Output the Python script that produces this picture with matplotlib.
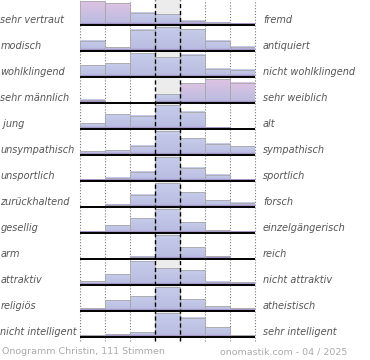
import numpy as np
import matplotlib
matplotlib.use('Agg')
import matplotlib.pyplot as plt
from matplotlib import colors as mcolors
from matplotlib.transforms import blended_transform_factory

# Onogramm: Verteilung der Stimmen auf 7 Stufen je Eigenschaftspaar
links = ["sehr vertraut", "modisch", "wohlklingend", "sehr männlich", " jung",
         "unsympathisch", "unsportlich", "zurückhaltend", "gesellig", "arm",
         "attraktiv", "religiös", "nicht intelligent"]
rechts = ["fremd", "antiquiert", "nicht wohlklingend", "sehr weiblich", "alt",
          "sympathisch", "sportlich", "forsch", "einzelgängerisch", "reich",
          "nicht attraktiv", "atheistisch", "sehr intelligent"]

vertraut = [24, 21.7, 12.3, 10.7, 4.3, 2.3, 1.3]
modisch = [10.3, 3.7, 21, 23.7, 21.7, 10.3, 4.3]
wohlklingend = [12, 14, 24.6, 20, 23, 8.6, 7.3]
maennlich = [3.3, 0, 0.3, 9, 20, 24.6, 20.6]
jung = [5.7, 14.7, 13.3, 24, 17.3, 1.3, 0]
unsympathisch = [4, 4.7, 9.3, 24, 16.7, 11.3, 8.7]
unsportlich = [1.5, 3.5, 9.3, 24, 13.5, 6.5, 1.3]
zurueckhaltend = [0.5, 2.4, 12.4, 24, 15, 6.7, 4.4]
gesellig = [1.3, 8, 14.6, 24, 10.6, 3, 1.3]
arm = [0, 0, 2.5, 24, 11.6, 2.6, 0]
attraktiv = [4, 10.7, 24, 16.7, 14.7, 3.3, 3]
religioes = [2.7, 11, 14.7, 24, 12, 5, 2.7]
intelligent = [1.7, 2.7, 4.7, 24, 19.3, 10, 1.7]

zeilen = [vertraut, modisch, wohlklingend, maennlich, jung, unsympathisch,
          unsportlich, zurueckhaltend, gesellig, arm, attraktiv, religioes,
          intelligent]

fuss_links = "Onogramm Christin, 111 Stimmen"
fuss_rechts = "onomastik.com - 04 / 2025"

W, H = 370, 360
ROW = 26.0
n = len(zeilen)

blau_oben = np.array(mcolors.to_rgb('#c6ccea'))
blau_unten = np.array(mcolors.to_rgb('#b8bbe0'))
rosa = np.array(mcolors.to_rgb('#ddc3e4'))
band = np.array(mcolors.to_rgb('#a493c6'))


def gradient(t, hoehe_px):
    m = 60
    top = blau_oben * (1 - t) + rosa * t
    f = np.linspace(0, 1, m)[:, None]
    img = top * (1 - f) + blau_unten * f
    k = int(round(min(1.0, 2.0 / max(hoehe_px, 0.01)) * m))
    if k > 0:
        img[m - k:] = band
    return img[:, None, :]


fig = plt.figure(figsize=(W / 100, H / 100), dpi=100)
ax = fig.add_axes([80 / W, (H - 338) / H, 175 / W, 338 / H])

x = np.arange(7) + 0.5
voll = 24 / ROW
basen = []
for i, werte in enumerate(zeilen):
    werte = np.array(werte, dtype=float)
    base = n - 1 - i + 1 / ROW
    basen.append(base)
    h = werte / werte.max() * voll
    # grauer Hintergrund der neutralen Mitte
    ax.bar(3.5, voll + 1 / ROW, width=1.0, bottom=base, color='#ececec',
           zorder=1, linewidth=0)
    bars = ax.bar(x, h, width=1.0, bottom=base, facecolor='none',
                  edgecolor='#a8a8a8', linewidth=0.6, zorder=3)
    mitte = werte[3]
    for b, v in zip(bars, werte):
        if b.get_height() <= 0:
            continue
        ratio = v / mitte if mitte > 0 else 0
        t = float(np.clip((ratio - 1.5) / 0.5, 0, 1))
        x0, y0 = b.get_x(), b.get_y()
        ax.imshow(gradient(t, b.get_height() * ROW), aspect='auto',
                  extent=(x0, x0 + b.get_width(), y0, y0 + b.get_height()),
                  interpolation='bilinear', zorder=2)

ax.vlines([0, 1, 2, 5, 6, 7], -0.1, n, colors='#7a7a7a',
          linestyles=(0, (1, 1.6)), linewidth=0.8, zorder=0.5, clip_on=False)
ax.vlines([3, 4], -0.1, n, colors='black', linestyles=(0, (3, 2)),
          linewidth=1.0, zorder=6, clip_on=False)
ax.hlines(basen, 0, 7, colors='black', linewidth=1.4, zorder=5, clip_on=False)

ax.set_xlim(0, 7)
ax.set_ylim(0, n)
ax.set_aspect('auto')
ax.axis('off')

tr = blended_transform_factory(fig.transFigure, ax.transData)
for base, l, r in zip(basen, links, rechts):
    ax.text(0.5 / W, base + 5 / ROW, l, transform=tr, ha='left', va='center',
            fontsize=7.0, style='italic', color='#555555')
    ax.text(263 / W, base + 5 / ROW, r, transform=tr, ha='left', va='center',
            fontsize=7.0, style='italic', color='#555555')

fig.text(2 / W, 1 - 352 / H, fuss_links, ha='left', va='center',
         fontsize=6.8, color='#aaaaaa')
fig.text(347 / W, 1 - 352 / H, fuss_rechts, ha='right', va='center',
         fontsize=6.8, color='#aaaaaa')

fig.savefig('out.png', dpi=100)
